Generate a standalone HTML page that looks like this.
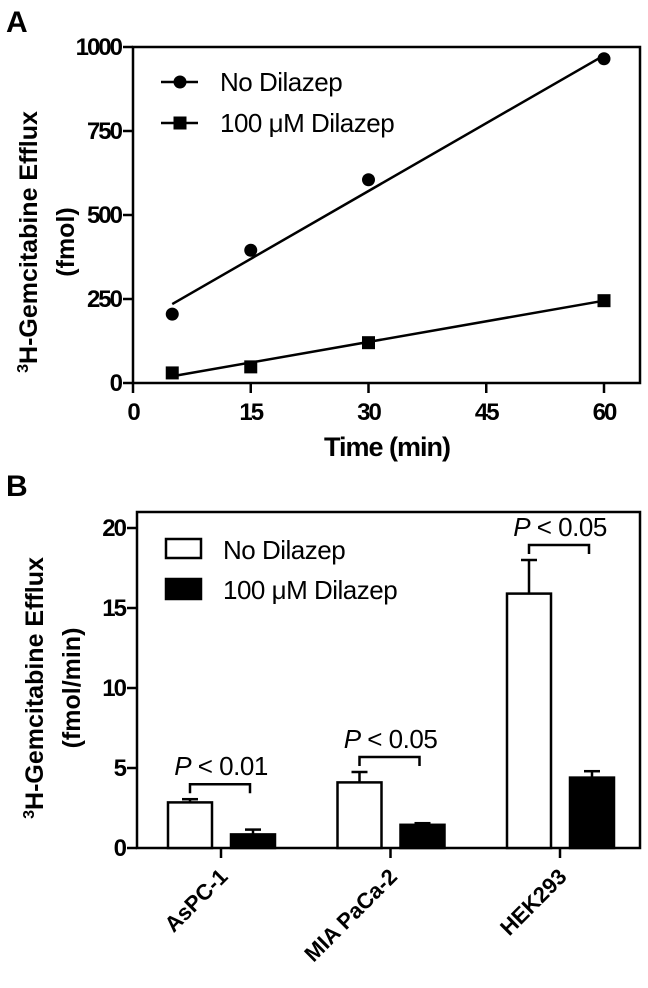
<!DOCTYPE html>
<html><head><meta charset="utf-8"><style>
body{margin:0;background:#fff;}
svg{display:block;font-family:"Liberation Sans",Arial,sans-serif;}
</style></head><body>
<svg id="fig" width="648" height="988" viewBox="0 0 648 988"></svg>
<script>
// Panel A data
const timesA = [5, 15, 30, 60];
const noDilazepA = [205, 395, 605, 965];
const dilazepA = [30, 48, 120, 245];
const fitNoA = [235, 975];   // fit values at t=5 and t=60
const fitDilA = [20, 245];
const xTicksA = [0, 15, 30, 45, 60];
const yTicksA = [0, 250, 500, 750, 1000];
// Panel B data
const categoriesB = ["AsPC-1", "MIA PaCa-2", "HEK293"];
const noDilazepB = [2.85, 4.1, 15.9];
const noDilazepErrB = [0.2, 0.65, 2.1];
const dilazepB = [0.85, 1.45, 4.4];
const dilazepErrB = [0.3, 0.1, 0.4];
const pLabelsB = ["< 0.01", "< 0.05", "< 0.05"];
const yTicksB = [0, 5, 10, 15, 20];

const NS = "http://www.w3.org/2000/svg";
const svg = document.getElementById("fig");
function mk(tag, attrs, parent, text) {
  const e = document.createElementNS(NS, tag);
  for (const k in attrs) e.setAttribute(k, attrs[k]);
  if (text !== undefined) e.textContent = text;
  (parent || svg).appendChild(e);
  return e;
}
const TICKFS = 24, TITLEFS = 25, LEGFS = 26;

// ===== Panel A =====
const gA = mk("g", {});


const xA = t => 133 + t * (604 - 133) / 60;
const yA = v => 383 - v * 0.336;
let t = mk("text", {x: 6, y: 32, "font-size": 30, "font-weight": "bold"}, gA, "A");
 
let box = mk("rect", {x: 133, y: 47, width: 507, height: 336, fill: "none", stroke: "#000", "stroke-width": 2.5}, gA);
 
yTicksA.forEach(v => {
  const l = mk("line", {x1: 123, x2: 133, y1: yA(v), y2: yA(v), stroke: "#000", "stroke-width": 2.5}, gA);
   
  const tx = mk("text", {x: 121, y: yA(v) + 8, "font-size": TICKFS, "text-anchor": "end", "font-weight": "bold", "letter-spacing": "-2"}, gA, v);
   
});
xTicksA.forEach(v => {
  const l = mk("line", {x1: xA(v), x2: xA(v), y1: 383, y2: 393, stroke: "#000", "stroke-width": 2.5}, gA);
   
  const tx = mk("text", {x: xA(v), y: 420, "font-size": TICKFS, "text-anchor": "middle", "font-weight": "bold", "letter-spacing": "-2"}, gA, v);
   
});
t = mk("text", {x: 387, y: 456, "font-size": 27, "text-anchor": "middle", "font-weight": "bold", "letter-spacing": "-1"}, gA, "Time (min)");
 
t = mk("text", {transform: "translate(37,242) rotate(-90)", "font-size": TITLEFS, "text-anchor": "middle", "font-weight": "bold"}, gA);
t.innerHTML = '<tspan font-size="16" dy="-9">3</tspan><tspan dy="9">H-Gemcitabine  Efflux</tspan>';
 
t = mk("text", {transform: "translate(74,242) rotate(-90)", "font-size": TITLEFS, "text-anchor": "middle", "font-weight": "bold"}, gA, "(fmol)");
 
let fl = mk("line", {x1: xA(timesA[0]), y1: yA(fitNoA[0]), x2: xA(timesA[3]), y2: yA(fitNoA[1]), stroke: "#000", "stroke-width": 2.5}, gA);
 
fl = mk("line", {x1: xA(timesA[0]), y1: yA(fitDilA[0]), x2: xA(timesA[3]), y2: yA(fitDilA[1]), stroke: "#000", "stroke-width": 2.5}, gA);
 
timesA.forEach((tm, i) => {
  const c = mk("circle", {cx: xA(tm), cy: yA(noDilazepA[i]), r: 6.5, fill: "#000"}, gA);
   
  const s = mk("rect", {x: xA(tm) - 6.5, y: yA(dilazepA[i]) - 6.5, width: 13, height: 13, fill: "#000"}, gA);
   
});
let lg = mk("g", {}, gA);
 
mk("line", {x1: 161, x2: 198, y1: 82, y2: 82, stroke: "#000", "stroke-width": 2.5}, lg);
mk("circle", {cx: 180, cy: 82, r: 6.5, fill: "#000"}, lg);
mk("text", {x: 220, y: 91, "font-size": LEGFS, "letter-spacing": "-0.5"}, lg, "No  Dilazep");
mk("line", {x1: 161, x2: 198, y1: 123, y2: 123, stroke: "#000", "stroke-width": 2.5}, lg);
mk("rect", {x: 173.5, y: 116.5, width: 13, height: 13, fill: "#000"}, lg);
mk("text", {x: 220, y: 132, "font-size": LEGFS, "letter-spacing": "-0.5"}, lg, "100 \u03bcM Dilazep");

// ===== Panel B =====
const gB = mk("g", {});


const yB = v => 848 - v * 16;
const catX = i => 221 + i * 169.5;
t = mk("text", {x: 6, y: 496, "font-size": 30, "font-weight": "bold"}, gB, "B");
 
box = mk("rect", {x: 137, y: 512, width: 503, height: 336, fill: "none", stroke: "#000", "stroke-width": 2.5}, gB);
 
yTicksB.forEach(v => {
  const l = mk("line", {x1: 127, x2: 137, y1: yB(v), y2: yB(v), stroke: "#000", "stroke-width": 2.5}, gB);
   
  const tx = mk("text", {x: 125, y: yB(v) + 8, "font-size": TICKFS, "text-anchor": "end", "font-weight": "bold", "letter-spacing": "-2"}, gB, v);
   
});
t = mk("text", {transform: "translate(43,688) rotate(-90)", "font-size": TITLEFS, "text-anchor": "middle", "font-weight": "bold"}, gB);
t.innerHTML = '<tspan font-size="16" dy="-9">3</tspan><tspan dy="9">H-Gemcitabine  Efflux</tspan>';
 
t = mk("text", {transform: "translate(80,688) rotate(-90)", "font-size": TITLEFS, "text-anchor": "middle", "font-weight": "bold"}, gB, "(fmol/min)");
 
categoriesB.forEach((c, i) => {
  const cx = catX(i);
  const tk = mk("line", {x1: cx, x2: cx, y1: 848, y2: 858, stroke: "#000", "stroke-width": 2.5}, gB);
   
  const lb = mk("text", {transform: `translate(${cx + 8},878) rotate(-45)`, "font-size": 22, "font-weight": "bold", "text-anchor": "end"}, gB, c);
   
  const wx = cx - 53, bx = cx + 10, bw = 44;
  const eW = mk("line", {x1: wx + bw / 2, x2: wx + bw / 2, y1: yB(noDilazepB[i]), y2: yB(noDilazepB[i] + noDilazepErrB[i]), stroke: "#000", "stroke-width": 2.5}, gB);
   
  mk("line", {x1: wx + bw / 2 - 8, x2: wx + bw / 2 + 8, y1: yB(noDilazepB[i] + noDilazepErrB[i]), y2: yB(noDilazepB[i] + noDilazepErrB[i]), stroke: "#000", "stroke-width": 2.5}, gB);
  const rW = mk("rect", {x: wx, y: yB(noDilazepB[i]), width: bw, height: 848 - yB(noDilazepB[i]), fill: "#fff", stroke: "#000", "stroke-width": 2.5}, gB);
   
  const eB = mk("line", {x1: bx + bw / 2, x2: bx + bw / 2, y1: yB(dilazepB[i]), y2: yB(dilazepB[i] + dilazepErrB[i]), stroke: "#000", "stroke-width": 2.5}, gB);
   
  mk("line", {x1: bx + bw / 2 - 8, x2: bx + bw / 2 + 8, y1: yB(dilazepB[i] + dilazepErrB[i]), y2: yB(dilazepB[i] + dilazepErrB[i]), stroke: "#000", "stroke-width": 2.5}, gB);
  const rB = mk("rect", {x: bx, y: yB(dilazepB[i]), width: bw, height: 848 - yB(dilazepB[i]), fill: "#000", stroke: "#000", "stroke-width": 2.5}, gB);
   
  const top = yB(noDilazepB[i] + noDilazepErrB[i]) - 15;
  const br = mk("path", {d: `M${cx - 31},${top + 9} V${top} H${cx + 29} V${top + 9}`, fill: "none", stroke: "#000", "stroke-width": 2.5}, gB);
   
  const pt = mk("text", {x: cx, y: top - 9, "font-size": 26, "text-anchor": "middle", "letter-spacing": "-0.5"}, gB);
  pt.innerHTML = '<tspan font-style="italic">P</tspan> ' + pLabelsB[i];
   
});
lg = mk("g", {}, gB);
 
mk("rect", {x: 166, y: 539, width: 35, height: 19, fill: "#fff", stroke: "#000", "stroke-width": 2.5}, lg);
mk("text", {x: 223, y: 559, "font-size": LEGFS, "letter-spacing": "-0.5"}, lg, "No Dilazep");
mk("rect", {x: 166, y: 579, width: 35, height: 20, fill: "#000", stroke: "#000", "stroke-width": 2.5}, lg);
mk("text", {x: 223, y: 599, "font-size": LEGFS, "letter-spacing": "-0.5"}, lg, "100 \u03bcM Dilazep");
</script>
</body></html>
